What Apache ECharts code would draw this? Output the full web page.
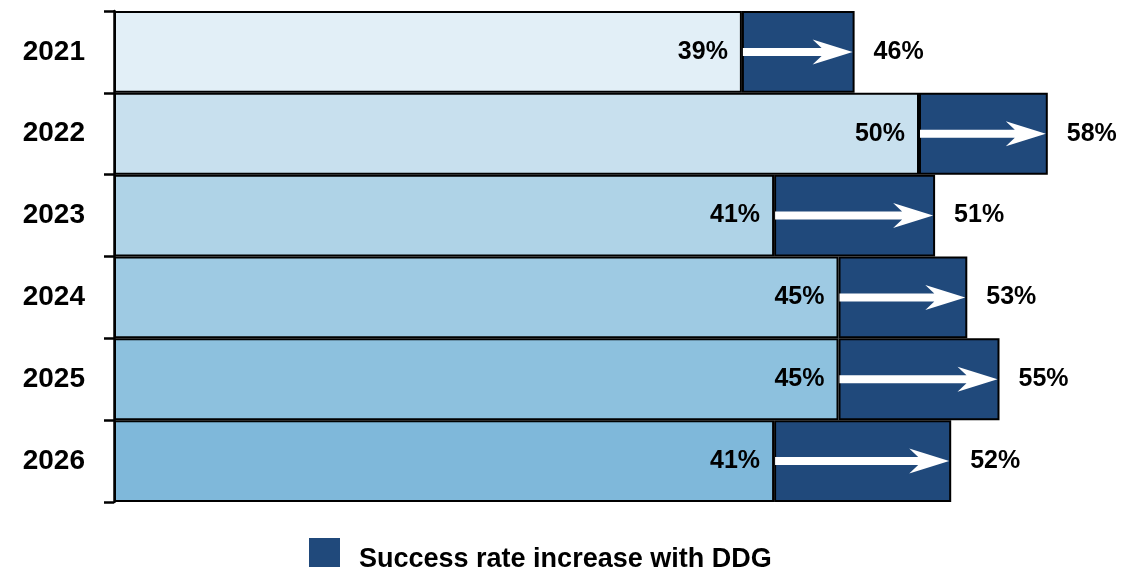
<!DOCTYPE html>
<html>
<head>
<meta charset="utf-8">
<script src="https://cdn.jsdelivr.net/npm/echarts@6/dist/echarts.min.js"></script>
<style>
html,body{margin:0;padding:0;background:#fff;}
#chart{width:1127px;height:567px;}
</style>
</head>
<body>
<div id="chart"></div>
<script>
const years = ['2021', '2022', '2023', '2024', '2025', '2026'];
const baseRate = [39, 50, 41, 45, 45, 41];
const ddgRate = [46, 58, 51, 53, 55, 52];
const baseColors = ['#e2eff7', '#c8e0ee', '#afd3e7', '#9ecae3', '#8dc1de', '#7fb8da'];
const legendName = 'Success rate increase with DDG';

const FONT = '"Liberation Sans", Arial, sans-serif';
const NAVY = '#20497b';

const increase = ddgRate.map((v, i) => v - baseRate[i]);
const arrowData = baseRate.map((b, i) => [b, ddgRate[i], i]);

const chart = echarts.init(document.getElementById('chart'), null, {renderer: 'canvas'});
chart.setOption({
  animation: false,
  backgroundColor: '#ffffff',
  grid: {left: 114, top: 11, bottom: 65, right: 47, containLabel: false},
  xAxis: {
    type: 'value', min: 0, max: 60,
    show: false
  },
  yAxis: {
    type: 'category',
    data: years,
    inverse: true,
    axisLine: {show: true, lineStyle: {color: '#000', width: 2.5}},
    axisTick: {show: true, length: 10, lineStyle: {color: '#000', width: 2.5}},
    axisLabel: {margin: 29, color: '#000', fontFamily: FONT, fontWeight: 'bold', fontSize: 28},
    splitLine: {show: false}
  },
  legend: {
    data: [legendName],
    left: 309, top: 538, padding: 0,
    itemWidth: 31, itemHeight: 31, itemGap: 10,
    icon: 'rect',
    itemStyle: {borderWidth: 0},
    selectedMode: false,
    formatter: name => '{t|' + name + '}',
    textStyle: {
      color: '#000', fontFamily: FONT, fontWeight: 'bold', fontSize: 27, padding: [0,0,0,14],
      rich: {t: {color: '#000', fontFamily: FONT, fontWeight: 'bold', fontSize: 27, padding: [12,0,0,0]}}
    }
  },
  series: [
    {
      name: 'Base',
      type: 'bar',
      stack: 'rate',
      barCategoryGap: '0%',
      data: baseRate.map((v, i) => ({value: v, itemStyle: {color: baseColors[i]}})),
      itemStyle: {borderColor: '#000', borderWidth: 2},
      label: {
        show: true, position: 'insideRight', distance: 14,
        formatter: p => p.value + '%',
        color: '#000', fontFamily: FONT, fontWeight: 'bold', fontSize: 25
      },
      z: 2
    },
    {
      name: legendName,
      type: 'bar',
      stack: 'rate',
      barCategoryGap: '0%',
      data: increase,
      itemStyle: {color: NAVY, borderColor: '#000', borderWidth: 2},
      label: {
        show: true, position: 'right', distance: 19,
        formatter: p => ddgRate[p.dataIndex] + '%',
        color: '#000', fontFamily: FONT, fontWeight: 'bold', fontSize: 25
      },
      z: 2
    },
    {
      name: 'arrows',
      type: 'custom',
      data: arrowData,
      encode: {x: [0, 1], y: 2},
      z: 5,
      silent: true,
      renderItem: function (params, api) {
        const s = api.coord([api.value(0), api.value(2)]);
        const e = api.coord([api.value(1), api.value(2)]);
        const x0 = s[0] + 1, xe = e[0] - 2, y = s[1];
        const sh = 4, H = 12.5, L = 40, N = 31;
        return {
          type: 'polygon',
          shape: {points: [
            [x0, y - sh], [xe - N, y - sh], [xe - L, y - H], [xe, y],
            [xe - L, y + H], [xe - N, y + sh], [x0, y + sh]
          ]},
          style: {fill: '#ffffff'}
        };
      }
    }
  ]
});
</script>
</body>
</html>
